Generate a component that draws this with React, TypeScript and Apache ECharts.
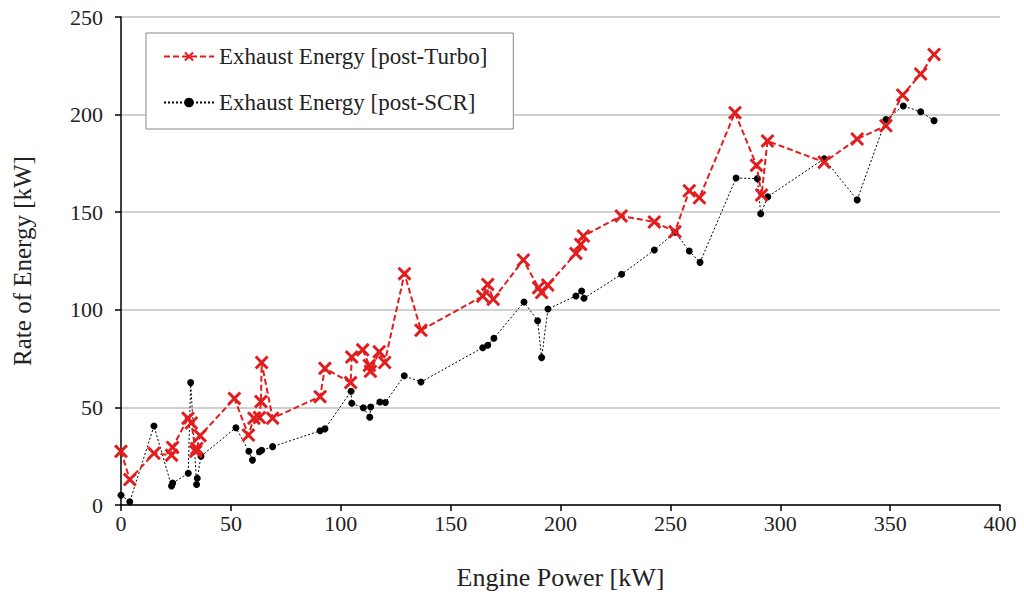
import React, { useEffect, useRef } from "react";
import * as echarts from "echarts";

const turboLabel = "Exhaust Energy [post-Turbo]";
const scrLabel = "Exhaust Energy [post-SCR]";

const turboPower = [0, 4, 15, 23, 23.5, 30.5, 32, 34, 34.5, 36, 51.6, 58, 60.5, 63, 63.7, 64, 69, 90.6, 92.8, 104.5, 105, 110, 113, 113.5, 117.5, 120, 129, 136.5, 164.6, 166.9, 169.4, 183.1, 190, 191.4, 194.2, 207, 209.2, 210.4, 227.6, 242.7, 252.1, 258.6, 263.2, 279.4, 289.2, 291.5, 294.2, 320, 335, 348.1, 355.7, 363.9, 370];
const turboEnergy = [27.5, 13, 26.5, 25.5, 29.5, 44.5, 42, 27.5, 29, 35.5, 54.6, 35.8, 44.5, 44.8, 53, 73, 44.5, 55.5, 70, 62.7, 75.8, 79.5, 71.5, 68.5, 78.5, 73, 118.5, 89.5, 107, 113, 105.4, 125.5, 111.3, 108.8, 112.7, 128.9, 133.5, 137.8, 148.1, 145, 140, 161, 157.4, 201, 174, 158.8, 186.5, 175.6, 187.5, 194.3, 210, 220.8, 230.8];

const scrPower = [0, 4, 15, 23, 23.5, 30.6, 31.7, 34.4, 34.7, 36.4, 52.3, 58.2, 59.8, 63, 64, 69, 90.6, 92.8, 104.7, 105, 110.3, 113.2, 113.6, 117.8, 120.3, 128.9, 136.5, 164.6, 166.9, 169.7, 183.4, 189.6, 191.4, 194.3, 207, 209.6, 210.7, 227.8, 242.7, 252.1, 258.6, 263.5, 279.9, 289.6, 291.1, 294.3, 320, 335, 348.1, 356, 363.9, 370];
const scrEnergy = [5, 1.7, 40.5, 9.7, 11.2, 16.3, 62.7, 10.5, 13.7, 25, 39.6, 27.5, 23, 27.3, 28, 29.9, 38, 39, 58.3, 52.1, 49.8, 45, 50.2, 52.8, 52.5, 66.2, 63, 80.6, 81.8, 85.4, 104, 94.4, 75.5, 100.4, 107.1, 109.6, 105.9, 118.2, 130.6, 139.7, 130.1, 124.3, 167.5, 167.2, 149.2, 157.9, 177.4, 156.3, 197.5, 204.4, 201.5, 196.9];

const xTicks = { min: 0, max: 400, interval: 50 };
const yTicks = { min: 0, max: 250, interval: 50 };

const FONT = "'Liberation Serif', 'Times New Roman', serif";
const RED = "#e31d1d";
const CROSS =
  "path://M0,1.5L1.5,0L5,3.5L8.5,0L10,1.5L6.5,5L10,8.5L8.5,10L5,6.5L1.5,10L0,8.5L3.5,5Z";

export default function App() {
  const ref = useRef<HTMLDivElement>(null);
  useEffect(() => {
    if (!ref.current) return;
    const chart = echarts.init(ref.current, null, { renderer: "svg" });
    const turbo = turboPower.map((x, i) => [x, turboEnergy[i]]);
    const scr = scrPower.map((x, i) => [x, scrEnergy[i]]);
    chart.setOption({
      animation: false,
      backgroundColor: "#ffffff",
      grid: { left: 121, right: 24, top: 17, bottom: 95, containLabel: false },
      xAxis: {
        type: "value",
        ...xTicks,
        name: "Engine Power [kW]",
        nameLocation: "middle",
        nameGap: 59,
        nameTextStyle: { fontFamily: FONT, fontSize: 26, color: "#222" },
        axisLine: { show: true, lineStyle: { color: "#000", width: 1.5 } },
        axisTick: { show: true, inside: false, length: 6, lineStyle: { color: "#000", width: 1.5 } },
        axisLabel: { fontFamily: FONT, fontSize: 22, color: "#222", margin: 7 },
        splitLine: { show: false },
      },
      yAxis: {
        type: "value",
        ...yTicks,
        name: "Rate of Energy [kW]",
        nameLocation: "middle",
        nameGap: 86,
        nameRotate: 90,
        nameTextStyle: { fontFamily: FONT, fontSize: 25, color: "#222" },
        axisLine: { show: true, lineStyle: { color: "#000", width: 1.5 } },
        axisTick: { show: true, inside: false, length: 6, lineStyle: { color: "#000", width: 1.5 } },
        axisLabel: { fontFamily: FONT, fontSize: 22, color: "#222", margin: 18 },
        splitLine: { show: true, lineStyle: { color: "#c0c0c0", width: 1.5 } },
      },
      legend: {
        orient: "vertical",
        left: 146,
        top: 33,
        padding: [12, 26, 15, 17],
        itemGap: 23,
        itemWidth: 50,
        itemHeight: 12,
        borderColor: "#888",
        borderWidth: 1,
        backgroundColor: "#fff",
        textStyle: { fontFamily: FONT, fontSize: 23, color: "#222" },
        data: [turboLabel, scrLabel],
      },
      series: [
        {
          name: scrLabel,
          type: "line",
          data: scr,
          symbol: "circle",
          symbolSize: 7,
          itemStyle: { color: "#000" },
          lineStyle: { color: "#000", width: 1, type: [2, 2] },
          z: 2,
        },
        {
          name: turboLabel,
          type: "line",
          data: turbo,
          symbol: CROSS,
          symbolSize: 14,
          itemStyle: { color: RED },
          lineStyle: { color: RED, width: 2, type: [6, 3] },
          z: 3,
        },
      ],
    });
    return () => chart.dispose();
  }, []);
  return (
    <div
      ref={ref}
      style={{ position: "fixed", left: 0, top: 0, width: 1024, height: 600 }}
    />
  );
}
